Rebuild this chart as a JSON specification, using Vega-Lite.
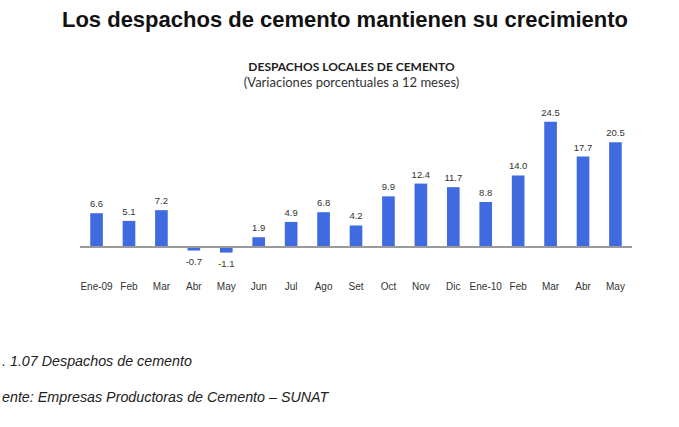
{
  "$schema": "https://vega.github.io/schema/vega-lite/v6.json",
  "autosize": {"type": "none"},
  "width": 551,
  "height": 163.5,
  "padding": {"left": 80.5, "top": 109, "right": 47.5, "bottom": 154.5},
  "background": "white",
  "title": {
    "text": "Los despachos de cemento mantienen su crecimiento",
    "anchor": "middle",
    "dx": -11,
    "font": "Liberation Sans",
    "fontSize": 22,
    "fontWeight": "bold",
    "color": "#111111",
    "offset": 28
  },
  "data": {
    "values": [
      {"periodo": "Ene-09", "valor": 6.6, "etiqueta": "6.6"},
      {"periodo": "Feb 2009", "valor": 5.1, "etiqueta": "5.1"},
      {"periodo": "Mar 2009", "valor": 7.2, "etiqueta": "7.2"},
      {"periodo": "Abr 2009", "valor": -0.7, "etiqueta": "-0.7"},
      {"periodo": "May 2009", "valor": -1.1, "etiqueta": "-1.1"},
      {"periodo": "Jun 2009", "valor": 1.9, "etiqueta": "1.9"},
      {"periodo": "Jul 2009", "valor": 4.9, "etiqueta": "4.9"},
      {"periodo": "Ago 2009", "valor": 6.8, "etiqueta": "6.8"},
      {"periodo": "Set 2009", "valor": 4.2, "etiqueta": "4.2"},
      {"periodo": "Oct 2009", "valor": 9.9, "etiqueta": "9.9"},
      {"periodo": "Nov 2009", "valor": 12.4, "etiqueta": "12.4"},
      {"periodo": "Dic 2009", "valor": 11.7, "etiqueta": "11.7"},
      {"periodo": "Ene-10", "valor": 8.8, "etiqueta": "8.8"},
      {"periodo": "Feb 2010", "valor": 14.0, "etiqueta": "14.0"},
      {"periodo": "Mar 2010", "valor": 24.5, "etiqueta": "24.5"},
      {"periodo": "Abr 2010", "valor": 17.7, "etiqueta": "17.7"},
      {"periodo": "May 2010", "valor": 20.5, "etiqueta": "20.5"}
    ]
  },
  "encoding": {
    "x": {
      "field": "periodo",
      "type": "nominal",
      "sort": null,
      "scale": {"paddingInner": 0.61, "paddingOuter": 0.3}
    },
    "y": {
      "field": "valor",
      "type": "quantitative",
      "scale": {"domain": [-5, 27], "nice": false, "zero": false},
      "axis": null
    }
  },
  "layer": [
    {
      "mark": {"type": "bar", "color": "#3f6ae0"},
      "encoding": {
        "x": {
          "field": "periodo",
          "type": "nominal",
          "sort": null,
          "axis": {
            "orient": "bottom",
            "domain": false,
            "ticks": false,
            "grid": false,
            "labelAngle": 0,
            "labelFont": "Liberation Sans",
            "labelFontSize": 10,
            "labelColor": "#333333",
            "labelPadding": 9,
            "labelExpr": "split(datum.label, ' ')[0]",
            "title": [". 1.07 Despachos de cemento", "ente: Empresas Productoras de Cemento – SUNAT"],
            "titleFont": "Liberation Sans",
            "titleFontStyle": "italic",
            "titleFontWeight": "normal",
            "titleFontSize": 14.3,
            "titleColor": "#222222",
            "titleAlign": "left",
            "titleBaseline": "top",
            "titleLineHeight": 36,
            "titleX": -79,
            "titleY": 82
          }
        }
      }
    },
    {
      "mark": {"type": "rule", "color": "#9a9a9a", "strokeWidth": 1},
      "encoding": {"y": {"datum": 0, "type": "quantitative"}, "x": null}
    },
    {
      "transform": [{"filter": "datum.valor >= 0"}],
      "mark": {"type": "text", "baseline": "bottom", "dy": -4, "font": "Liberation Sans", "fontSize": 9.5, "color": "#333333"},
      "encoding": {
        "x": {
          "field": "periodo",
          "type": "nominal",
          "sort": null,
          "axis": {
            "orient": "top",
            "domain": false,
            "ticks": false,
            "labels": false,
            "grid": false,
            "title": "(Variaciones porcentuales a 12 meses)",
            "titleFont": "Lato",
            "titleFontSize": 13,
            "titleFontWeight": "normal",
            "titleColor": "#333333",
            "titleAlign": "center",
            "titleX": 270.5,
            "titlePadding": 20
          }
        },
        "text": {"field": "etiqueta", "type": "nominal"}
      }
    },
    {
      "transform": [{"filter": "datum.valor < 0"}],
      "mark": {"type": "text", "baseline": "top", "dy": 6, "font": "Liberation Sans", "fontSize": 9.5, "color": "#333333"},
      "encoding": {
        "x": {
          "field": "periodo",
          "type": "nominal",
          "sort": null,
          "axis": {
            "orient": "top",
            "domain": false,
            "ticks": false,
            "labels": false,
            "grid": false,
            "title": "DESPACHOS LOCALES DE CEMENTO",
            "titleFont": "Lato",
            "titleFontSize": 12,
            "titleFontWeight": "bold",
            "titleColor": "#222222",
            "titleAlign": "center",
            "titleX": 270.5,
            "titlePadding": 36
          }
        },
        "text": {"field": "etiqueta", "type": "nominal"}
      }
    }
  ],
  "resolve": {"axis": {"x": "independent"}},
  "config": {"view": {"stroke": null}}
}
